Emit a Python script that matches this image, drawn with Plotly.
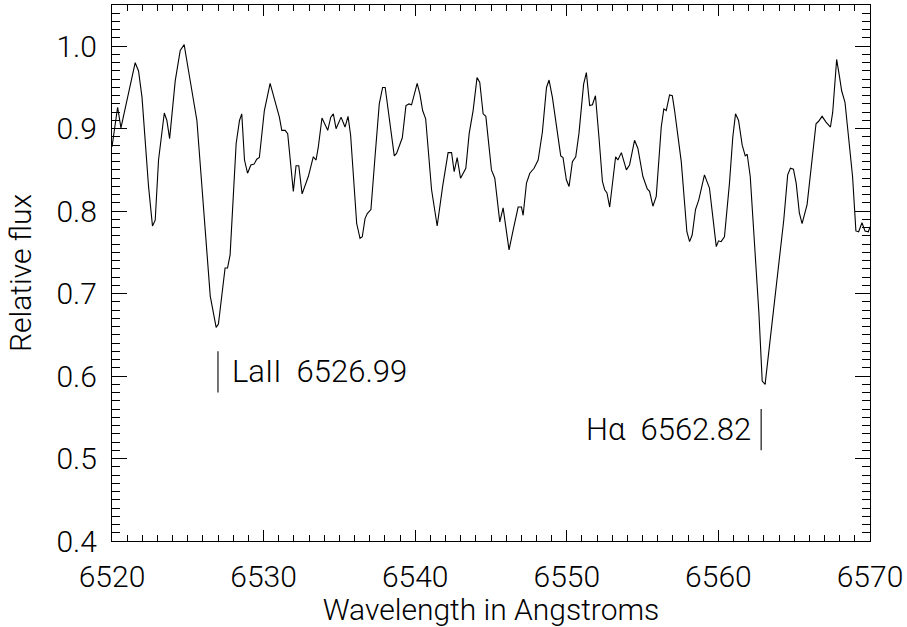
import plotly.graph_objects as go

# Spectrum: wavelength (Angstrom) and continuum-normalised flux
wavelength = [
    6520.00, 6520.37, 6520.59, 6521.53, 6521.75, 6521.98, 6522.41, 6522.67, 6522.85, 6523.07,
    6523.45, 6523.62, 6523.80, 6524.17, 6524.50, 6524.76, 6525.05, 6525.38, 6525.60, 6526.48,
    6526.87, 6527.02, 6527.46, 6527.62, 6527.79, 6528.19, 6528.41, 6528.56, 6528.74, 6528.94,
    6529.16, 6529.37, 6529.55, 6529.72, 6530.05, 6530.43, 6530.76, 6531.04, 6531.20, 6531.42,
    6531.59, 6531.96, 6532.14, 6532.32, 6532.54, 6532.73, 6532.95, 6533.28, 6533.46, 6533.61,
    6533.85, 6534.23, 6534.43, 6534.60, 6534.78, 6535.11, 6535.37, 6535.57, 6535.74, 6536.14,
    6536.36, 6536.51, 6536.69, 6536.84, 6537.08, 6537.35, 6537.63, 6537.85, 6538.02, 6538.62,
    6538.77, 6539.15, 6539.39, 6539.59, 6539.76, 6540.13, 6540.31, 6540.49, 6540.69, 6541.08,
    6541.45, 6541.81, 6542.17, 6542.40, 6542.57, 6542.77, 6542.99, 6543.34, 6543.56, 6543.82,
    6544.08, 6544.26, 6544.48, 6544.66, 6545.03, 6545.25, 6545.58, 6545.80, 6546.19, 6546.46,
    6546.79, 6547.01, 6547.12, 6547.34, 6547.56, 6547.84, 6548.11, 6548.39, 6548.66, 6548.83,
    6549.05, 6549.60, 6549.75, 6549.97, 6550.15, 6550.37, 6550.59, 6550.80, 6551.11, 6551.29,
    6551.51, 6551.69, 6551.89, 6552.12, 6552.35, 6552.50, 6552.65, 6552.83, 6553.22, 6553.37,
    6553.60, 6553.93, 6554.14, 6554.47, 6554.69, 6555.02, 6555.31, 6555.46, 6555.68, 6555.90,
    6556.23, 6556.40, 6556.56, 6556.78, 6556.96, 6557.11, 6557.55, 6557.92, 6558.10, 6558.27,
    6558.49, 6558.71, 6559.08, 6559.41, 6559.63, 6559.86, 6560.01, 6560.18, 6560.40, 6560.73,
    6560.95, 6561.13, 6561.33, 6561.57, 6561.77, 6561.90, 6562.10, 6562.38, 6562.67, 6562.89,
    6563.08, 6563.37, 6563.70, 6564.03, 6564.31, 6564.57, 6564.75, 6564.95, 6565.13, 6565.34,
    6565.52, 6565.85, 6566.11, 6566.29, 6566.44, 6566.61, 6566.84, 6567.10, 6567.39, 6567.54,
    6567.80, 6567.98, 6568.13, 6568.35, 6568.59, 6568.85, 6569.07, 6569.25, 6569.47, 6569.67,
    6569.89, 6570.00,
]
flux = [
    0.878, 0.926, 0.901, 0.980, 0.970, 0.938, 0.830, 0.782, 0.789, 0.862,
    0.919, 0.910, 0.888, 0.958, 0.995, 1.002, 0.970, 0.934, 0.910, 0.697,
    0.659, 0.663, 0.731, 0.731, 0.747, 0.882, 0.910, 0.918, 0.862, 0.846,
    0.856, 0.857, 0.863, 0.865, 0.922, 0.955, 0.934, 0.914, 0.898, 0.898,
    0.894, 0.824, 0.855, 0.855, 0.821, 0.830, 0.842, 0.866, 0.862, 0.878,
    0.913, 0.898, 0.914, 0.918, 0.900, 0.914, 0.902, 0.915, 0.892, 0.785,
    0.767, 0.769, 0.791, 0.797, 0.802, 0.866, 0.930, 0.950, 0.950, 0.867,
    0.870, 0.889, 0.928, 0.930, 0.929, 0.955, 0.942, 0.922, 0.912, 0.826,
    0.782, 0.830, 0.871, 0.871, 0.848, 0.865, 0.840, 0.852, 0.894, 0.922,
    0.962, 0.956, 0.918, 0.915, 0.850, 0.840, 0.787, 0.804, 0.753, 0.777,
    0.805, 0.805, 0.795, 0.834, 0.846, 0.852, 0.862, 0.896, 0.950, 0.959,
    0.938, 0.867, 0.865, 0.838, 0.830, 0.860, 0.866, 0.894, 0.954, 0.968,
    0.928, 0.929, 0.940, 0.890, 0.836, 0.826, 0.822, 0.805, 0.866, 0.862,
    0.871, 0.850, 0.856, 0.886, 0.876, 0.842, 0.827, 0.824, 0.806, 0.818,
    0.902, 0.924, 0.922, 0.941, 0.940, 0.922, 0.860, 0.775, 0.763, 0.771,
    0.802, 0.814, 0.844, 0.828, 0.793, 0.757, 0.764, 0.763, 0.769, 0.834,
    0.890, 0.918, 0.910, 0.880, 0.867, 0.869, 0.842, 0.765, 0.677, 0.594,
    0.590, 0.637, 0.693, 0.741, 0.789, 0.844, 0.852, 0.851, 0.834, 0.798,
    0.785, 0.808, 0.854, 0.886, 0.906, 0.909, 0.915, 0.908, 0.902, 0.920,
    0.984, 0.964, 0.946, 0.932, 0.890, 0.842, 0.776, 0.775, 0.786, 0.776,
    0.775, 0.781,
]

# Identified lines: label, rest wavelength, marker extent in flux
line_labels = ["LaII", "H\u03b1"]
line_wavelengths = [6526.99, 6562.82]
line_y0 = [0.58, 0.51]
line_y1 = [0.63, 0.56]

FONT = dict(family="Roboto, 'DejaVu Sans', sans-serif", size=30, color="black", weight=300)
LABEL_FONT = dict(FONT, size=31)

fig = go.Figure()
fig.add_trace(go.Scatter(
    x=wavelength, y=flux, mode="lines",
    line=dict(color="black", width=1.1),
    showlegend=False, hoverinfo="skip",
))

for i, (name, wl) in enumerate(zip(line_labels, line_wavelengths)):
    fig.add_shape(type="line", xref="x", yref="y",
                  x0=wl, x1=wl, y0=line_y0[i], y1=line_y1[i],
                  line=dict(color="black", width=1.1))
    text = f"{name}\u00a0\u00a0{wl:.2f}"
    ymid = (line_y0[i] + line_y1[i]) / 2
    if i == 0:
        fig.add_annotation(x=wl, y=ymid, text=text, showarrow=False,
                           xanchor="left", yanchor="middle", xshift=12, font=LABEL_FONT)
    else:
        fig.add_annotation(x=wl, y=ymid, text=text, showarrow=False,
                           xanchor="right", yanchor="middle", xshift=-8, font=LABEL_FONT)

axis_common = dict(
    showline=True, linecolor="black", linewidth=1.2, mirror="allticks",
    ticks="inside", tickcolor="black", tickwidth=1.1,
    showgrid=False, zeroline=False, tickfont=FONT,
)

fig.update_xaxes(
    range=[6520, 6570], tickmode="linear", tick0=6520, dtick=10, ticklen=11,
    minor=dict(dtick=1, ticklen=5.5, ticks="inside", tickcolor="black", tickwidth=1.1, showgrid=False),
    title=dict(text="Wavelength in Angstroms", font=FONT, standoff=8),
    ticklabelstandoff=9,
    **axis_common,
)
fig.update_yaxes(
    range=[0.4, 1.05], tickmode="linear", tick0=0.4, dtick=0.1, ticklen=15,
    tickformat=".1f",
    minor=dict(dtick=0.01, ticklen=7.5, ticks="inside", tickcolor="black", tickwidth=1.1, showgrid=False),
    title=dict(text="Relative flux", font=FONT, standoff=15),
    ticklabelstandoff=8,
    **axis_common,
)

fig.update_layout(
    width=907, height=627,
    margin=dict(l=112, r=36, t=4, b=84),
    paper_bgcolor="white", plot_bgcolor="white",
)

fig.write_html("out.html")
